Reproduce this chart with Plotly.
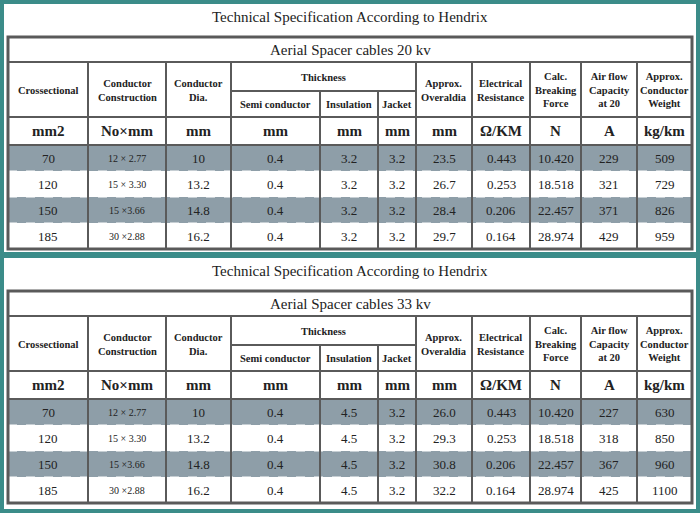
import plotly.graph_objects as go

title = "Technical Specification According to Hendrix"
subtitles = ["Aerial Spacer cables 20 kv", "Aerial Spacer cables 33 kv"]
headers = ["Crossectional", "Conductor<br>Construction", "Conductor<br>Dia.", "Semi conductor", "Insulation", "Jacket",
           "Approx.<br>Overaldia", "Electrical<br>Resistance", "Calc.<br>Breaking<br>Force", "Air flow<br>Capacity<br>at 20", "Approx.<br>Conductor<br>Weight"]
units = ["mm2", "No×mm", "mm", "mm", "mm", "mm", "mm", "Ω/KM", "N", "A", "kg/km"]
cross = ["70", "120", "150", "185"]
construction = ["12 × 2.77", "15 × 3.30", "15 ×3.66", "30 ×2.88"]
dia = ["10", "13.2", "14.8", "16.2"]
semi = ["0.4", "0.4", "0.4", "0.4"]
insul_20 = ["3.2", "3.2", "3.2", "3.2"]
insul_33 = ["4.5", "4.5", "4.5", "4.5"]
jacket = ["3.2", "3.2", "3.2", "3.2"]
overal_20 = ["23.5", "26.7", "28.4", "29.7"]
overal_33 = ["26.0", "29.3", "30.8", "32.2"]
resist = ["0.443", "0.253", "0.206", "0.164"]
force = ["10.420", "18.518", "22.457", "28.974"]
air_20 = ["229", "321", "371", "429"]
air_33 = ["227", "318", "367", "425"]
weight_20 = ["509", "729", "826", "959"]
weight_33 = ["630", "850", "960", "1100"]

tables = [
    [cross, construction, dia, semi, insul_20, jacket, overal_20, resist, force, air_20, weight_20],
    [cross, construction, dia, semi, insul_33, jacket, overal_33, resist, force, air_33, weight_33],
]

xs = [8, 88, 166, 231, 320, 378, 416, 472, 530, 581, 637, 692]
TEAL = "#3b8c89"
GRID = "#5a5a5a"
SHADE = "#8e9ea8"
FONT = "Liberation Serif"

shapes, ann = [], []
def rect(x0, y0, x1, y1, fill, lw=0, lc=GRID):
    shapes.append(dict(type="rect", xref="x", yref="y", x0=x0, y0=y0, x1=x1, y1=y1,
                       fillcolor=fill, line=dict(width=lw, color=lc), layer="below"))
def line(x0, y0, x1, y1, w=2, c=GRID, dash="solid"):
    shapes.append(dict(type="line", xref="x", yref="y", x0=x0, y0=y0, x1=x1, y1=y1,
                       line=dict(width=w, color=c, dash=dash)))
def text(x, y, t, size, bold=False):
    ann.append(dict(x=x, y=y, xref="x", yref="y", text=f"<b>{t}</b>" if bold else t, showarrow=False,
                    font=dict(family=FONT, size=size, color="#222")))

rect(0, 0, 700, 513, TEAL)
for k, off in enumerate([0, 254]):
    rect(4, 4 + off, 696, 252 + off if k == 0 else 509, "white")
    text(350, 17 + off, title, 15)
    top, sub, hdr, mid, unit, d0 = 37 + off, 62 + off, 63 + off, 91 + off, 117 + off, 145 + off
    rh = 26
    bot = d0 + 4 * rh
    for r in range(4):
        if r % 2 == 0:
            rect(xs[0], d0 + r * rh, xs[-1], d0 + (r + 1) * rh, SHADE)
    text(350, (top + sub) / 2, subtitles[k], 15)
    for c in range(11):
        cx = (xs[c] + xs[c + 1]) / 2
        if c in (3, 4, 5):
            text(cx, (mid + unit) / 2, headers[c], 10.5, True)
        else:
            text(cx, (hdr + unit) / 2, headers[c], 10.5, True)
        text(cx, (unit + d0) / 2, units[c], 15, True)
        for r in range(4):
            v = tables[k][c][r]
            text(cx, d0 + r * rh + rh / 2, v, 10 if c == 1 else 13)
    text((xs[3] + xs[6]) / 2, (hdr + mid) / 2, "Thickness", 10.5, True)
    line(xs[0], sub, xs[-1], sub)
    line(xs[0], unit, xs[-1], unit)
    line(xs[0], d0, xs[-1], d0)
    line(xs[3], mid, xs[6], mid)
    for r in range(1, 4):
        line(xs[0], d0 + r * rh, xs[-1], d0 + r * rh, 1, "white", "dash")
    for i, x in enumerate(xs[1:-1], start=1):
        y0 = mid if i in (4, 5) else sub
        line(x, y0, x, bot)
    rect(xs[0], top, xs[-1], bot, "rgba(0,0,0,0)", 3)
    shapes[-1]["layer"] = "above"

fig = go.Figure()
fig.update_layout(width=700, height=513, margin=dict(l=0, r=0, t=0, b=0),
                  paper_bgcolor=TEAL, plot_bgcolor=TEAL, shapes=shapes, annotations=ann,
                  xaxis=dict(range=[0, 700], visible=False, fixedrange=True),
                  yaxis=dict(range=[513, 0], visible=False, fixedrange=True), showlegend=False)
fig.write_html("out.html", config={"displayModeBar": False},
               post_script="document.body.style.margin='0';document.body.style.overflow='hidden';")
